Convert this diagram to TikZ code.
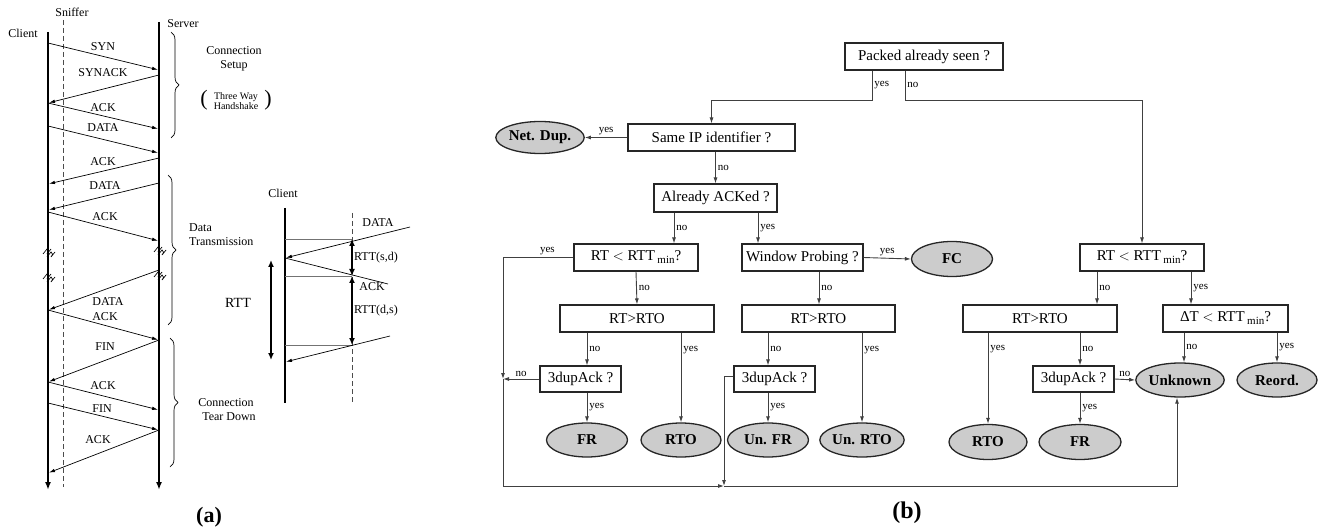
\documentclass[tikz,border=0pt]{standalone}
\usepackage{fontspec}
\setmainfont{Liberation Serif}
\usetikzlibrary{arrows.meta,calc,decorations.pathreplacing,shapes.geometric}
\newcommand\fsz[1]{\fontsize{#1}{#1}\selectfont}
\newcommand\minsub{\,\raisebox{-3pt}{\fsz{11}min}}
\begin{document}
\begin{tikzpicture}[x=1pt,y=-1pt,
  box/.style={draw=black!85, line width=1.1pt, minimum height=27pt, inner sep=0pt, font=\fsz{15}},
  term/.style={ellipse, draw=black!85, line width=1.3pt, fill=black!20, inner sep=0pt, minimum height=34pt, font=\bfseries\fsz{15}},
  fl/.style={draw=black!75, line width=0.9pt},
  arr/.style={fl, -{Latex[length=6pt,width=4pt]}},
  yn/.style={font=\fsz{11}, inner sep=2pt},
  tl/.style={line width=1.7pt, -{Latex[length=8pt,width=6pt]}},
  msg/.style={line width=0.7pt, -{Latex[length=6pt,width=3.5pt]}, shorten >=1pt},
  dbl/.style={line width=2pt, {Latex[length=7pt,width=6pt]}-{Latex[length=7pt,width=6pt]}},
  lbl/.style={font=\fsz{12}, inner sep=0pt},
  brc/.style={line width=0.7pt, decorate, decoration={brace, amplitude=8pt}},
  hl/.style={draw=black!55, line width=0.9pt}]
\useasboundingbox (0,0) rectangle (1322,529);

% ---------------- (a) ----------------
\coordinate (C) at (48,0);
\coordinate (V) at (159,0);
\node[lbl] (lcl) at (23,33) {Client};
\node[lbl] (lsn) at (72,12) {Sniffer};
\node[lbl] (lsv) at (183,24) {Server};
\draw[tl] ($(C)+(0,32)$) -- ($(C)+(0,490)$);
\draw[tl] ($(V)+(0,22)$) -- ($(V)+(0,490)$);
\draw[line width=0.8pt, dashed, dash pattern=on 5pt off 3pt, black!70] (63,20) -- (63,487);

\newcommand\mcs[2]{\draw[msg] ($(C)+(0,#1)$) -- ($(V)+(0,#2)$);}
\newcommand\msc[2]{\draw[msg] ($(V)+(0,#1)$) -- ($(C)+(0,#2)$);}
\mcs{43}{70}   \node[lbl] (m1) at (103,47) {SYN};
\msc{75}{103}  \node[lbl] (m2) at (103,73) {SYNACK};
\mcs{103}{129} \node[lbl] (m3) at (103,108) {ACK};
\mcs{126}{153} \node[lbl] (m4) at (103,128) {DATA};
\msc{158}{184} \node[lbl] (m5) at (103,162) {ACK};
\msc{183}{210} \node[lbl] (m6) at (105,186) {DATA};
\mcs{212}{241} \node[lbl] (m7) at (105,217) {ACK};
\msc{270}{310} \node[lbl] (m8) at (108,302) {DATA};
\mcs{310}{340} \node[lbl] (m9) at (105,317) {ACK};
\msc{340}{382} \node[lbl] (m10) at (105,347) {FIN};
\mcs{382}{410} \node[lbl] (m11) at (103,386) {ACK};
\mcs{403}{430} \node[lbl] (m12) at (102,409) {FIN};
\msc{430}{473} \node[lbl] (m13) at (98,440) {ACK};

% break marks
\foreach \p/\yy in {C/252, C/277, V/250, V/275}{
  \draw[line width=0.7pt] ($(\p)+(-5,\yy+2)$) -- ($(\p)+(-1,\yy-3)$) .. controls ($(\p)+(1,\yy-1)$) .. ($(\p)+(-1,\yy+2)$) -- ($(\p)+(3,\yy-3)$);
  \draw[line width=0.7pt] ($(\p)+(-1,\yy+5)$) -- ($(\p)+(3,\yy)$) .. controls ($(\p)+(5,\yy+2)$) .. ($(\p)+(3,\yy+5)$) -- ($(\p)+(7,\yy)$);
}

% braces and phase labels
\draw[brc] (171,32) -- (171,138);
\draw[brc] (168,175) -- (168,325);
\draw[brc] (170,338) -- (170,467);
\node[lbl, align=center] (ph1) at (234,59) {Connection\\[2pt]Setup};
\node[font=\fsz{10}, inner sep=0pt, align=center] (ph1b) at (236,101) {Three Way\\Handshake};
\node[font=\fsz{22}, inner sep=0pt] (pl) at (204,100) {(};
\node[font=\fsz{22}, inner sep=0pt] (pr) at (268,100) {)};
\node[lbl, align=left, anchor=west] (ph2) at (189,235) {Data\\[2pt]Transmission};
\node[lbl, align=center] (ph3) at (226,410) {Connection\\[2pt]\hspace*{6pt}Tear Down};

% RTT detail
\node[lbl] (lcl2) at (283,193) {Client};
\draw[line width=1.4pt] (285,208) coordinate (c2t) -- (285,403) coordinate (c2b);
\draw[line width=0.8pt, dashed, dash pattern=on 5pt off 3pt, black!70] (352,213) coordinate (n2t) -- (352,403) coordinate (n2b);
\coordinate (h1) at (352,239);
\coordinate (h2) at (352,276);
\coordinate (h3) at (352,345);
\draw[hl] (h1 -| c2t) -- (h1);
\draw[hl] (h2 -| c2t) -- (h2);
\draw[hl] (h3 -| c2t) -- (h3);
\coordinate (ca) at (285,258);
\coordinate (cb) at (285,362);
\coordinate (d0) at (410,227);
\coordinate (a1) at (388,284);
\coordinate (a2) at (390,336);
\draw[msg] (d0) -- (ca);
\draw[line width=0.7pt] (ca) -- (a1);
\draw[msg] (a2) -- (cb);
\node[lbl] (tdata) at (378,223) {DATA};
\node[lbl] (tack) at (372,287) {ACK};
\draw[dbl] (h1) -- (h2);
\draw[dbl] (h2) -- (h3);
\node[lbl, anchor=west] (trsd) at (354,258) {RTT(s,d)};
\node[lbl, anchor=west] (trds) at (354,311) {RTT(d,s)};
\draw[dbl] (271,260) coordinate (r1) -- (271,360) coordinate (r2);
\node[font=\fsz{14}, inner sep=0pt] (trtt) at (238,303) {RTT};

\node[font=\bfseries\fsz{22}, inner sep=0pt] (la) at (209,517) {(a)};

% ---------------- (b) ----------------
\node[box, minimum width=158pt] (P) at (924,56.5) {Packed already seen ?};
\node[box, minimum width=167pt] (S) at (711.5,137.5) {Same IP identifier ?};
\node[box, minimum width=123pt, minimum height=28pt] (A) at (715.5,198) {Already ACKed ?};
\node[box, minimum width=124pt] (R1) at (636,257.5) {RT $<$ RTT\minsub?};
\node[box, minimum width=121pt] (W) at (802.5,257.5) {Window Probing ?};
\node[box, minimum width=154pt] (O1) at (637,318.5) {RT>RTO};
\node[box, minimum width=153pt] (O2) at (818.5,318.5) {RT>RTO};
\node[box, minimum width=81pt, minimum height=26pt] (D1) at (580.5,379) {3dupAck ?};
\node[box, minimum width=81pt, minimum height=26pt] (D2) at (774.5,379) {3dupAck ?};
\node[box, minimum width=124pt] (R2) at (1142,257.5) {RT $<$ RTT\minsub?};
\node[box, minimum width=154pt] (O3) at (1040,318.5) {RT>RTO};
\node[box, minimum width=125pt] (DT) at (1225.5,318.5) {ΔT $<$ RTT\minsub?};
\node[box, minimum width=81pt, minimum height=26pt] (D3) at (1073.5,379) {3dupAck ?};

\node[term, minimum width=85pt, minimum height=32pt] (ND) at (540,137.5) {Net. Dup.};
\node[term, minimum width=81pt, minimum height=35pt] (FC) at (952,259) {FC};
\node[term, minimum width=81pt] (FR1) at (587,440) {FR};
\node[term, minimum width=80pt] (RTO1) at (681,440) {RTO};
\node[term, minimum width=81pt] (UFR) at (768,440) {Un. FR};
\node[term, minimum width=78pt] (URTO) at (862,440) {Un. RTO};
\node[term, minimum width=78pt, minimum height=35pt] (RTO2) at (988,442) {RTO};
\node[term, minimum width=82pt, minimum height=35pt] (FR2) at (1080,442) {FR};
\node[term, minimum width=81pt] (UNK) at (1180,380) {Unknown};
\node[term, minimum width=80pt] (REO) at (1277,380) {Reord.};

\coordinate (py) at (872,100);
\coordinate (pn) at (905,100);
\coordinate (lb) at (503,486);
\coordinate (mb) at (724,486);
\coordinate (rb) at (1177,486);

\draw[arr] (P.south -| py) -- node[yn, right]{yes} (py) -| (S.north);
\draw[arr] (P.south -| pn) -- node[yn, right]{no} (pn) -| (R2.north);
\draw[arr] (S.west) -- node[yn, above]{yes} (ND.east);
\draw[arr] (S.south -| A.north) -- node[yn, right]{no} (A.north);
\draw[arr] ([xshift=-41.5pt]A.south) -- node[yn, right]{no} ([xshift=-41.5pt]A.south |- R1.north);
\draw[arr] ([xshift=42.5pt]A.south) -- node[yn, right]{yes} ([xshift=42.5pt]A.south |- W.north);
\draw[arr] (W.east) -- node[yn, above]{yes} (FC.west);
\draw[arr] ([xshift=16.5pt]W.south) -- node[yn, right]{no} ([xshift=16.5pt]W.south |- O2.north);
\draw[arr] (R1.south) -- node[yn, right]{no} (O1.north);
\draw[arr] (R1.west) -- node[yn, above, pos=0.37]{yes} (R1.west -| lb) -- (D1.west -| lb);
\draw[fl] (D1.west -| lb) -- (lb);
\draw[arr] (D1.west) -- node[yn, above]{no} (D1.west -| lb);
\draw[arr] (O1.south -| FR1) -- node[yn, right]{no} (D1.north -| FR1);
\draw[arr] (O1.south -| RTO1) -- node[yn, right, pos=0.19]{yes} (RTO1.north);
\draw[arr] (D1.south -| FR1) -- node[yn, right]{yes} (FR1.north);
\draw[arr] (O2.south -| UFR) -- node[yn, right]{no} (D2.north -| UFR);
\draw[arr] (O2.south -| URTO) -- node[yn, right, pos=0.19]{yes} (URTO.north);
\draw[arr] (D2.south -| UFR) -- node[yn, right]{yes} (UFR.north);
\draw[arr] ([yshift=3pt]D2.west) -- ([yshift=3pt]D2.west -| mb) -- (mb);
\draw[arr] (lb) -- (mb);
\draw[arr] (mb) -- (rb) -- (rb |- UNK.south);
\draw[arr] ([xshift=-45pt]R2.south) -- node[yn, right]{no} ([xshift=-45pt]R2.south |- O3.north);
\draw[arr] ([xshift=49pt]R2.south) -- node[yn, right]{yes} ([xshift=49pt]R2.south |- DT.north);
\draw[arr] (O3.south -| RTO2) -- node[yn, right, pos=0.18]{yes} (RTO2.north);
\draw[arr] (O3.south -| FR2) -- node[yn, right]{no} (D3.north -| FR2);
\draw[arr] (D3.south -| FR2) -- node[yn, right]{yes} (FR2.north);
\draw[arr] (D3.east) -- node[yn, above]{no} (UNK.west);
\draw[arr] ([xshift=-41.5pt]DT.south) -- node[yn, right]{no} ([xshift=-41.5pt]DT.south |- UNK.north);
\draw[arr] (DT.south -| REO) -- node[yn, right]{yes} (REO.north);

\node[font=\bfseries\fsz{24}, inner sep=0pt] (lbb) at (907,513) {(b)};
\end{tikzpicture}
\end{document}
